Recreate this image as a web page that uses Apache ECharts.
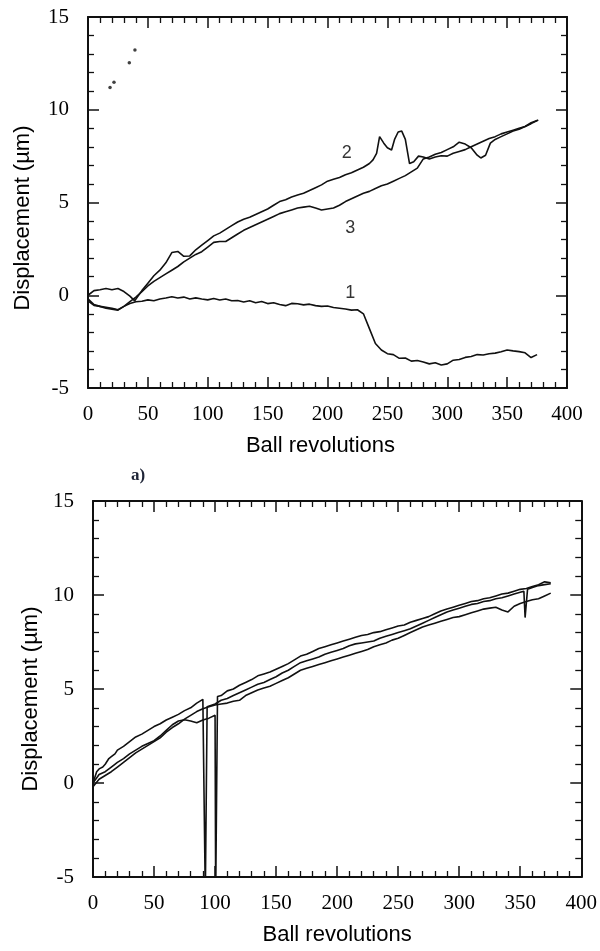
<!DOCTYPE html>
<html>
<head>
<meta charset="utf-8">
<script src="https://cdn.jsdelivr.net/npm/echarts@6/dist/echarts.min.js"></script>
<style>
html,body{margin:0;padding:0;background:#fff;}
#chart{width:600px;height:951px;}
</style>
</head>
<body>
<div id="chart"></div>
<script>
// ---------- Panel a) (top) ----------
const topCurve1 = [
[0,-0.2],[5,-0.5],[10,-0.6],[15,-0.65],[20,-0.7],[25,-0.78],[30,-0.6],[35,-0.45],[40,-0.35],[45,-0.32],
[50,-0.25],[55,-0.3],[60,-0.2],[65,-0.15],[70,-0.08],[75,-0.15],[80,-0.1],[85,-0.2],[90,-0.14],[95,-0.2],
[100,-0.25],[105,-0.18],[110,-0.26],[115,-0.2],[120,-0.3],[125,-0.28],[130,-0.36],[135,-0.3],[140,-0.4],[145,-0.34],
[150,-0.45],[155,-0.4],[160,-0.5],[165,-0.56],[170,-0.44],[175,-0.46],[180,-0.52],[185,-0.48],[190,-0.56],[195,-0.6],
[200,-0.58],[205,-0.66],[210,-0.7],[215,-0.74],[220,-0.8],[225,-0.78],[230,-1.0],[235,-1.8],[240,-2.6],[245,-2.95],
[250,-3.15],[255,-3.2],[260,-3.4],[265,-3.38],[270,-3.55],[275,-3.52],[280,-3.6],[285,-3.7],[290,-3.64],[295,-3.76],
[300,-3.7],[305,-3.5],[310,-3.46],[315,-3.35],[320,-3.3],[325,-3.2],[330,-3.22],[335,-3.15],[340,-3.12],[345,-3.05],
[350,-2.95],[355,-3.0],[360,-3.04],[365,-3.1],[370,-3.36],[375,-3.2]
];
const topCurve2 = [
[0,0.0],[5,0.25],[10,0.3],[15,0.36],[20,0.3],[25,0.36],[30,0.2],[35,-0.05],[39,-0.3],[45,0.25],
[50,0.65],[55,1.05],[60,1.35],[65,1.75],[70,2.3],[75,2.36],[80,2.1],[85,2.12],[90,2.45],[95,2.7],
[100,2.95],[105,3.2],[110,3.35],[115,3.55],[120,3.75],[125,3.95],[130,4.1],[135,4.2],[140,4.35],[145,4.5],
[150,4.65],[155,4.85],[160,5.05],[165,5.15],[170,5.3],[175,5.4],[180,5.5],[185,5.65],[190,5.8],[195,5.95],
[200,6.15],[205,6.25],[210,6.35],[215,6.5],[220,6.6],[225,6.75],[230,6.9],[235,7.1],[238,7.3],[241,7.65],
[243.5,8.55],[247,8.2],[250,7.95],[253.5,7.83],[256,8.4],[259,8.8],[262,8.85],[265,8.4],[268.5,7.1],[272,7.2],
[276,7.5],[280,7.45],[285,7.35],[290,7.45],[295,7.52],[300,7.5],[305,7.65],[310,7.75],[315,7.85],[320,8.0],
[325,8.15],[330,8.3],[335,8.45],[340,8.55],[345,8.7],[350,8.8],[355,8.9],[360,9.0],[365,9.1],[370,9.25],[376,9.45]
];
const topCurve3 = [
[0,-0.3],[5,-0.55],[10,-0.6],[15,-0.7],[20,-0.75],[25,-0.8],[30,-0.6],[35,-0.35],[40,-0.1],[45,0.2],
[50,0.5],[55,0.75],[60,0.95],[65,1.15],[70,1.35],[75,1.55],[80,1.8],[85,2.0],[90,2.2],[95,2.35],
[100,2.6],[105,2.85],[110,2.9],[115,2.9],[120,3.1],[125,3.3],[130,3.5],[135,3.65],[140,3.8],[145,3.95],
[150,4.1],[155,4.25],[160,4.4],[165,4.5],[170,4.6],[175,4.7],[180,4.75],[185,4.8],[190,4.7],[195,4.6],
[200,4.65],[205,4.7],[210,4.85],[215,5.05],[220,5.2],[225,5.35],[230,5.5],[235,5.6],[240,5.75],[245,5.9],
[250,6.0],[255,6.15],[260,6.3],[265,6.45],[270,6.65],[275,6.85],[280,7.35],[285,7.45],[290,7.6],[295,7.7],
[300,7.85],[305,8.0],[310,8.25],[315,8.15],[320,7.95],[325,7.55],[328,7.4],[332,7.55],[336,8.2],[340,8.4],
[345,8.55],[350,8.7],[355,8.85],[360,8.95],[365,9.1],[370,9.3],[375,9.42]
];
const topDots = [[18.4,11.2],[21.7,11.48],[34.5,12.54],[39.2,13.22]];
const topCurveLabels = [[216,7.65,'2'],[219,3.6,'3'],[219,0.1,'1']];

// ---------- Panel b) (bottom) ----------
const botCurveP = [
[0,0.0],[5,0.45],[10,0.6],[15,0.85],[20,1.1],[25,1.3],[30,1.55],[35,1.75],[40,1.95],[45,2.1],
[50,2.25],[55,2.5],[60,2.8],[65,3.1],[70,3.3],[75,3.36],[80,3.3],[85,3.2],[90,3.35],[95,3.45],
[100,3.6],[100.5,-6],[101.5,-6],[102,4.6],[105,4.65],[110,4.9],[115,5.0],[120,5.2],[125,5.35],[130,5.5],
[135,5.7],[140,5.8],[145,5.9],[150,6.05],[155,6.2],[160,6.35],[165,6.55],[170,6.75],[175,6.85],[180,7.0],
[185,7.15],[190,7.25],[195,7.35],[200,7.45],[205,7.55],[210,7.65],[215,7.75],[220,7.85],[225,7.9],[230,8.0],
[235,8.05],[240,8.15],[245,8.25],[250,8.35],[255,8.4],[260,8.55],[265,8.65],[270,8.75],[275,8.85],[280,9.0],
[285,9.15],[290,9.25],[295,9.35],[300,9.45],[305,9.55],[310,9.65],[315,9.7],[320,9.8],[325,9.85],[330,9.95],
[335,10.05],[340,10.1],[345,10.2],[350,10.3],[355,10.35],[360,10.45],[365,10.55],[370,10.7],[375,10.65]
];
const botCurveQ = [
[0,0.0],[3,0.6],[5,0.75],[8,0.85],[10,1.0],[13,1.3],[15,1.4],[18,1.55],[20,1.75],[25,1.95],
[30,2.2],[35,2.45],[40,2.6],[45,2.8],[50,3.0],[55,3.15],[60,3.35],[65,3.5],[70,3.65],[75,3.85],
[80,4.0],[85,4.25],[90,4.45],[91.5,4.55],[92,-6],[93,-6],[93.5,4.05],[95,4.1],[100,4.2],[105,4.4],
[110,4.5],[115,4.65],[120,4.8],[125,4.95],[130,5.1],[135,5.25],[140,5.35],[145,5.5],[150,5.65],[155,5.85],
[160,6.0],[165,6.2],[170,6.4],[175,6.5],[180,6.6],[185,6.7],[190,6.85],[195,6.95],[200,7.05],[205,7.15],
[210,7.3],[215,7.4],[220,7.45],[225,7.5],[230,7.55],[235,7.7],[240,7.8],[245,7.9],[250,8.0],[255,8.1],
[260,8.2],[265,8.35],[270,8.5],[275,8.65],[280,8.8],[285,8.95],[290,9.1],[295,9.2],[300,9.3],[305,9.4],
[310,9.5],[315,9.55],[320,9.65],[325,9.7],[330,9.8],[335,9.85],[340,9.95],[345,10.05],[350,10.15],[353,10.2],
[354,8.8],[355,8.85],[356,10.3],[360,10.4],[365,10.5],[370,10.55],[375,10.6]
];
const botCurveR = [
[0,-0.2],[5,0.2],[10,0.4],[15,0.6],[20,0.85],[25,1.1],[30,1.35],[35,1.6],[40,1.8],[45,2.0],
[50,2.2],[55,2.4],[60,2.7],[65,2.95],[70,3.15],[75,3.4],[80,3.6],[85,3.8],[90,3.95],[95,4.05],
[100,4.15],[105,4.2],[110,4.25],[115,4.35],[120,4.4],[125,4.65],[130,4.8],[135,4.95],[140,5.05],[145,5.15],
[150,5.3],[155,5.45],[160,5.6],[165,5.8],[170,6.0],[175,6.1],[180,6.2],[185,6.3],[190,6.4],[195,6.5],
[200,6.6],[205,6.7],[210,6.8],[215,6.9],[220,7.0],[225,7.1],[230,7.25],[235,7.35],[240,7.45],[245,7.6],
[250,7.7],[255,7.85],[260,8.0],[265,8.15],[270,8.3],[275,8.4],[280,8.5],[285,8.6],[290,8.7],[295,8.8],
[300,8.85],[305,8.95],[310,9.05],[315,9.15],[320,9.25],[325,9.3],[330,9.35],[335,9.2],[340,9.1],[345,9.4],
[350,9.55],[355,9.65],[360,9.75],[365,9.8],[370,9.95],[375,10.1]
];

const xName = 'Ball revolutions';
const yName = 'Displacement (µm)';
const panelLabel = 'a)';

const INK = '#111';
function xAxes(grid, showName, namePad){
  const base = {
    type:'value', gridIndex:grid, min:0, max:400, interval:50,
    axisLine:{show:true,onZero:false,lineStyle:{color:INK,width:2}},
    axisTick:{show:true,inside:true,length:11,lineStyle:{color:INK,width:1.5}},
    minorTick:{show:true,splitNumber:5,length:6,lineStyle:{color:INK,width:1.3}},
    splitLine:{show:false}, minorSplitLine:{show:false}
  };
  return [
    Object.assign({}, base, {position:'bottom',
      axisLabel:{show:true,margin:16,color:'#000',fontFamily:'Liberation Serif',fontSize:21},
      name: showName ? xName : '', nameLocation:'middle', nameGap:47,
      nameTextStyle:{color:'#000',fontFamily:'Liberation Sans',fontSize:22,padding:namePad}}),
    Object.assign({}, base, {position:'top', axisLabel:{show:false}})
  ];
}
function yAxes(grid){
  const base = {
    type:'value', gridIndex:grid, min:-5, max:15, interval:5,
    axisLine:{show:true,onZero:false,lineStyle:{color:INK,width:2}},
    axisTick:{show:true,inside:true,length:11,lineStyle:{color:INK,width:1.5}},
    minorTick:{show:true,splitNumber:5,length:6,lineStyle:{color:INK,width:1.3}},
    splitLine:{show:false}, minorSplitLine:{show:false}
  };
  return [
    Object.assign({}, base, {position:'left',
      axisLabel:{show:true,margin:19,color:'#000',fontFamily:'Liberation Serif',fontSize:21}}),
    Object.assign({}, base, {position:'right', axisLabel:{show:false}})
  ];
}
function lineSeries(data, xi, yi){
  return {type:'line', data:data, xAxisIndex:xi, yAxisIndex:yi, showSymbol:false, symbol:'none',
    smooth:false, clip:true, lineStyle:{color:INK,width:1.6}, z:3};
}

const chart = echarts.init(document.getElementById('chart'), null, {renderer:'canvas'});
chart.setOption({
  animation:false,
  backgroundColor:'#fff',
  grid:[
    {left:88, top:17, width:479, height:371},
    {left:93, top:501, width:489, height:376}
  ],
  xAxis: xAxes(0, true, [0,14,0,0]).concat(xAxes(1, true, [0,0,0,0])),
  yAxis: yAxes(0).concat(yAxes(1)),
  graphic:[
    {type:'text', x:23, y:218, rotation:Math.PI/2,
      style:{text:yName, fill:'#000', font:'22px "Liberation Sans"', textAlign:'center', textVerticalAlign:'middle'}},
    {type:'text', x:31, y:699, rotation:Math.PI/2,
      style:{text:yName, fill:'#000', font:'22px "Liberation Sans"', textAlign:'center', textVerticalAlign:'middle'}},
    {type:'text', x:138, y:476,
      style:{text:panelLabel, fill:'#1e2436', font:'bold 17px "Liberation Serif"', textAlign:'center', textVerticalAlign:'middle'}}
  ],
  series:[
    lineSeries(topCurve1,0,0),
    lineSeries(topCurve2,0,0),
    lineSeries(topCurve3,0,0),
    {type:'scatter', data:topDots, xAxisIndex:0, yAxisIndex:0, symbol:'circle', symbolSize:3.5,
      itemStyle:{color:INK}},
    {type:'scatter', data:topCurveLabels, xAxisIndex:0, yAxisIndex:0, symbolSize:0,
      label:{show:true, position:'inside', formatter:p=>p.value[2], color:'#000',
        fontFamily:'Liberation Sans', fontSize:18}},
    lineSeries(botCurveP,2,2),
    lineSeries(botCurveQ,2,2),
    lineSeries(botCurveR,2,2)
  ]
});
</script>
</body>
</html>
